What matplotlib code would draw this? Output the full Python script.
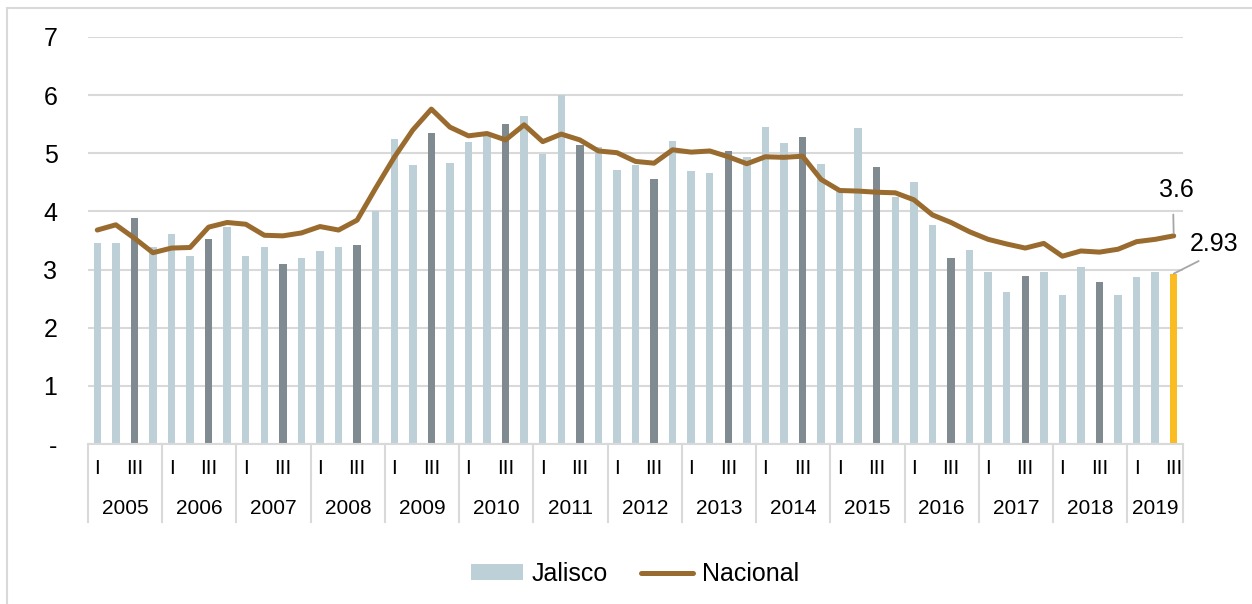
import numpy as np
import matplotlib.pyplot as plt
from matplotlib.patches import Rectangle, Patch
from matplotlib.lines import Line2D

plt.rcParams['font.family'] = ['Liberation Sans', 'DejaVu Sans']

# datos trimestrales 2005-I a 2019-III
years = ['2005', '2006', '2007', '2008', '2009', '2010', '2011', '2012',
         '2013', '2014', '2015', '2016', '2017', '2018', '2019']
quarters_per_year = [4] * 14 + [3]

jalisco = [3.46, 3.46, 3.89, 3.38, 3.61, 3.23, 3.53, 3.73,
           3.23, 3.38, 3.10, 3.20, 3.32, 3.38, 3.42, 4.00,
           5.25, 4.79, 5.35, 4.83, 5.19, 5.29, 5.50, 5.64,
           4.98, 6.00, 5.15, 5.11, 4.71, 4.80, 4.56, 5.21,
           4.69, 4.66, 5.04, 4.94, 5.46, 5.18, 5.28, 4.82,
           4.35, 5.44, 4.77, 4.25, 4.50, 3.76, 3.20, 3.34,
           2.95, 2.61, 2.89, 2.95, 2.56, 3.04, 2.79, 2.57,
           2.88, 2.96, 2.93]

nacional = [3.68, 3.77, 3.54, 3.29, 3.37, 3.38, 3.73, 3.81,
            3.78, 3.59, 3.58, 3.63, 3.74, 3.68, 3.85, 4.40,
            4.93, 5.40, 5.76, 5.45, 5.30, 5.34, 5.23, 5.49,
            5.20, 5.33, 5.23, 5.04, 5.01, 4.86, 4.83, 5.06,
            5.02, 5.04, 4.94, 4.82, 4.94, 4.93, 4.95, 4.55,
            4.36, 4.35, 4.33, 4.32, 4.20, 3.94, 3.81, 3.65,
            3.52, 3.44, 3.37, 3.45, 3.23, 3.32, 3.30, 3.35,
            3.48, 3.52, 3.58]

yticks = [0, 1, 2, 3, 4, 5, 6, 7]
ylabels = ['-', '1', '2', '3', '4', '5', '6', '7']

light = '#bdd0d8'
dark = '#7f8a91'
gold = '#fbbb22'
brown = '#9a6b2f'
grid = '#d9d9d9'

fig = plt.figure(figsize=(12.52, 6.04), dpi=100)
# marco del gráfico (recortado por la imagen)
fig.patches.append(Rectangle((7 / 1252, -0.2), 1.2, 1.2 - 8 / 604,
                             transform=fig.transFigure, fill=False,
                             edgecolor=grid, lw=1.5))
ax = fig.add_axes([88 / 1252, 1 - 444 / 604, 1095 / 1252, 407 / 604])

x = np.arange(len(jalisco))
qidx = []
for n in quarters_per_year:
    qidx += list(range(n))
colors = [dark if q == 2 else light for q in qidx]
colors[-1] = gold

ax.bar(x, jalisco, width=0.4, color=colors, zorder=2)
ax.plot(x, nacional, color=brown, lw=3.6, zorder=3, solid_capstyle='round')

ax.set_xlim(-0.5, len(x) - 0.5)
ax.set_ylim(0, 7)
ax.set_yticks(yticks)
ax.set_yticklabels(ylabels, fontsize=18)
ax.tick_params(axis='y', length=0, pad=22)
ax.set_xticks([])
ax.grid(axis='y', color=grid, lw=1.5, zorder=0)
for s in ['left', 'right', 'top']:
    ax.spines[s].set_visible(False)
ax.spines['bottom'].set_color(grid)
ax.spines['bottom'].set_linewidth(1.5)

# eje de categorías en dos niveles
trans = ax.get_xaxis_transform()
start = 0
for yr, n in zip(years, quarters_per_year):
    ax.text(start, -0.06, 'I', transform=trans, ha='center', va='center', fontsize=15)
    ax.text(start + 2, -0.06, 'III', transform=trans, ha='center', va='center', fontsize=15)
    ax.text(start + (n - 1) / 2, -0.158, yr, transform=trans, ha='center', va='center', fontsize=15)
    ax.plot([start - 0.5] * 2, [0, -0.192], transform=trans, color=grid, lw=1.5, clip_on=False)
    start += n
ax.plot([start - 0.5] * 2, [0, -0.192], transform=trans, color=grid, lw=1.5, clip_on=False)

# etiquetas del último dato
ax.annotate(f'{nacional[-1]:.1f}', xy=(x[-1], nacional[-1]), xytext=(2, 33),
            textcoords='offset points', ha='center', va='center', fontsize=18,
            arrowprops=dict(arrowstyle='-', color='#a6a6a6', lw=1.3,
                            shrinkA=7, shrinkB=2, relpos=(0.4, 0)))
ax.annotate(f'{jalisco[-1]:.2f}', xy=(x[-1], jalisco[-1]), xytext=(29, 21.5),
            textcoords='offset points', ha='center', va='center', fontsize=18,
            arrowprops=dict(arrowstyle='-', color='#a6a6a6', lw=1.3,
                            shrinkA=4, shrinkB=0, relpos=(0.4, 0)))

handles = [Patch(facecolor=light, label='Jalisco'),
           Line2D([], [], color=brown, lw=3.6, solid_capstyle='round', label='Nacional')]
fig.legend(handles=handles, loc='center', bbox_to_anchor=(0.507, 1 - 574 / 604),
           ncol=2, frameon=False, fontsize=18, handlelength=2.1, handleheight=0.6,
           handletextpad=0.35, columnspacing=1.3)

fig.savefig('out.png', dpi=100)
